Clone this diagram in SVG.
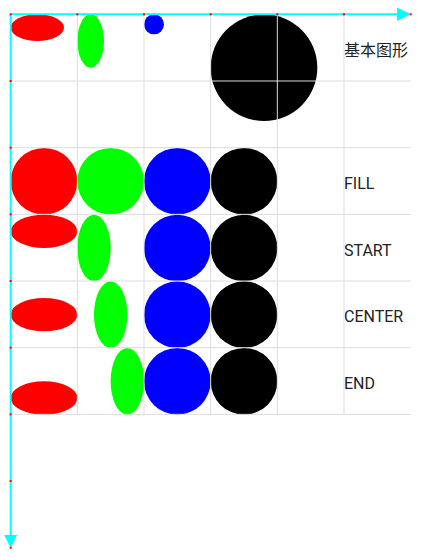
<svg xmlns="http://www.w3.org/2000/svg" width="428" height="557" viewBox="0 0 428 557">
<style>
.grid{stroke:#dddddd;stroke-width:1;fill:none}
.axis{stroke:#00ffff;stroke-width:2;fill:none}
.head{fill:#00ffff}
.tick{fill:#ff0000}
.lbl{font-family:Roboto,"Liberation Sans","Noto Sans CJK SC",sans-serif;font-size:16px;fill:#222222}
.r{fill:#ff0000}.g{fill:#00ff00}.b{fill:#0000ff}.k{fill:#000000}
</style>
<rect width="428" height="557" fill="#ffffff"/>
<g id="row-basic">
<ellipse class="r" cx="37.33" cy="27.67" rx="26.67" ry="13.33"/>
<ellipse class="g" cx="90.67" cy="41" rx="13.33" ry="26.67"/>
<circle class="b" cx="154" cy="24.33" r="10"/>
<circle class="k" cx="264" cy="67.67" r="53.33"/>
<text class="lbl" x="344" y="56">基本图形</text>
</g>
<g id="row-fill">
<circle class="r" cx="44" cy="181.33" r="33.33"/>
<circle class="g" cx="110.67" cy="181.33" r="33.33"/>
<circle class="b" cx="177.33" cy="181.33" r="33.33"/>
<circle class="k" cx="244" cy="181.33" r="33.33"/>
<text class="lbl" x="344" y="189">FILL</text>
</g>
<g id="row-start">
<ellipse class="r" cx="44" cy="231.33" rx="33.33" ry="16.67"/>
<ellipse class="g" cx="94" cy="248" rx="16.67" ry="33.33"/>
<circle class="b" cx="177.33" cy="248" r="33.33"/>
<circle class="k" cx="244" cy="248" r="33.33"/>
<text class="lbl" x="344" y="255.7">START</text>
</g>
<g id="row-center">
<ellipse class="r" cx="44" cy="314.67" rx="33.33" ry="16.67"/>
<ellipse class="g" cx="110.67" cy="314.67" rx="16.67" ry="33.33"/>
<circle class="b" cx="177.33" cy="314.67" r="33.33"/>
<circle class="k" cx="244" cy="314.67" r="33.33"/>
<text class="lbl" x="344" y="322.3">CENTER</text>
</g>
<g id="row-end">
<ellipse class="r" cx="44" cy="398" rx="33.33" ry="16.67"/>
<ellipse class="g" cx="127.33" cy="381.33" rx="16.67" ry="33.33"/>
<circle class="b" cx="177.33" cy="381.33" r="33.33"/>
<circle class="k" cx="244" cy="381.33" r="33.33"/>
<text class="lbl" x="344" y="389">END</text>
</g>
<g id="grid">
<path class="grid" d="M77.33 14.33V414.67M144 14.33V414.67M210.67 14.33V414.67M277.33 14.33V414.67M344 14.33V414.67"/>
<path class="grid" d="M10.67 81H410.67M10.67 147.67H410.67M10.67 214.33H410.67M10.67 281H410.67M10.67 347.67H410.67M10.67 414.33H410.67"/>
</g>
<g id="axes">
<path class="axis" d="M10.67 14.33H398"/>
<polygon class="head" points="397,7.6 410.67,14.33 397,21.06"/>
<path class="axis" d="M10.67 14.33V535"/>
<polygon class="head" points="4.2,535 10.67,547.67 17.1,535"/>
<g class="tick">
<rect x="9.67" y="13.33" width="2" height="2"/>
<rect x="76.33" y="13.33" width="2" height="2"/>
<rect x="143" y="13.33" width="2" height="2"/>
<rect x="209.67" y="13.33" width="2" height="2"/>
<rect x="276.33" y="13.33" width="2" height="2"/>
<rect x="343" y="13.33" width="2" height="2"/>
<rect x="409.67" y="13.33" width="2" height="2"/>
<rect x="9.67" y="80" width="2" height="2"/>
<rect x="9.67" y="146.67" width="2" height="2"/>
<rect x="9.67" y="213.33" width="2" height="2"/>
<rect x="9.67" y="280" width="2" height="2"/>
<rect x="9.67" y="346.67" width="2" height="2"/>
<rect x="9.67" y="413.33" width="2" height="2"/>
<rect x="9.67" y="480" width="2" height="2"/>
<rect x="9.67" y="546.67" width="2" height="2"/>
</g>
</g>
</svg>
